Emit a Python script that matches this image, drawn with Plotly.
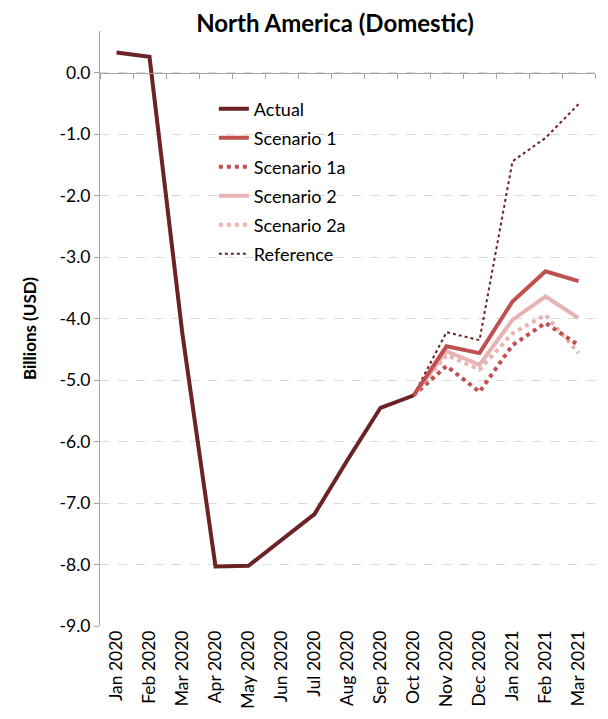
import plotly.graph_objects as go

months = ["Jan 2020", "Feb 2020", "Mar 2020", "Apr 2020", "May 2020", "Jun 2020",
          "Jul 2020", "Aug 2020", "Sep 2020", "Oct 2020", "Nov 2020", "Dec 2020",
          "Jan 2021", "Feb 2021", "Mar 2021"]

actual = [0.33, 0.26, -4.26, -8.03, -8.02, -7.60, -7.18, -6.30, -5.45, -5.25,
          None, None, None, None, None]
scenario1 = [None] * 9 + [-5.25, -4.45, -4.56, -3.72, -3.23, -3.39]
scenario1a = [None] * 9 + [-5.25, -4.77, -5.19, -4.43, -4.07, -4.43]
scenario2 = [None] * 9 + [-5.25, -4.53, -4.75, -4.02, -3.64, -3.99]
scenario2a = [None] * 9 + [-5.25, -4.59, -4.83, -4.24, -3.94, -4.56]
reference = [None] * 9 + [-5.25, -4.22, -4.35, -1.44, -1.06, -0.51]

y_ticks = [0.0, -1.0, -2.0, -3.0, -4.0, -5.0, -6.0, -7.0, -8.0, -9.0]

C_ACT = "#6B2326"
C_S1 = "#C0504D"
C_S2 = "#E8B4B3"
FONT = "Lato, 'Open Sans', sans-serif"

fig = go.Figure()
# (name, data, color, width, dash, legend rank) ; drawn bottom to top
series = [
    ("Reference", reference, C_ACT, 2, "dot", 6),
    ("Scenario 2a", scenario2a, C_S2, 4, "dot", 5),
    ("Scenario 1a", scenario1a, C_S1, 4, "dot", 3),
    ("Scenario 2", scenario2, C_S2, 4, None, 4),
    ("Scenario 1", scenario1, C_S1, 4, None, 2),
    ("Actual", actual, C_ACT, 4, None, 1),
]
for name, vals, col, w, dash, rank in series:
    fig.add_trace(go.Scatter(x=months, y=vals, name=name, mode="lines",
                             legendgroup=name, legendrank=rank,
                             line=dict(color=col, width=w, dash=dash)))

ymin, ymax = -9.0, 0.68
zero_pos = (0 - ymin) / (ymax - ymin)

W, H = 600, 711  # page has an 8px body margin
fig.update_layout(
    width=W, height=H,
    margin=dict(l=92, r=13, t=23, b=93, autoexpand=False),
    paper_bgcolor="white", plot_bgcolor="white",
    font=dict(family=FONT, size=17, color="#000000"),
    title=dict(text="<b>North America (Domestic)</b>", x=327 / W, xanchor="center",
               xref="container", yref="container", y=1 - 16 / H, yanchor="middle",
               font=dict(size=24, family=FONT)),
    showlegend=True,
    legend=dict(x=0.23, y=0.90, xanchor="left", yanchor="top",
                bgcolor="rgba(0,0,0,0)", traceorder="grouped",
                font=dict(size=18, family=FONT), tracegroupgap=2.6),
    xaxis=dict(type="category", range=[-0.5, 14.5], showgrid=False,
               tickangle=-90, ticks="", showline=False, zeroline=False,
               automargin=False, tickfont=dict(size=17.5)),
    xaxis2=dict(type="category", range=[-0.5, 14.5], overlaying="x",
                anchor="free", position=zero_pos, side="bottom",
                showline=True, linecolor="#A6A6A6", linewidth=1,
                ticks="outside", ticklen=5, tickcolor="#A6A6A6",
                tickson="boundaries", showticklabels=False, showgrid=False,
                automargin=False),
    yaxis=dict(range=[ymin, ymax], tickvals=y_ticks,
               ticktext=[f"{v:.1f}" for v in y_ticks],
               showgrid=True, gridcolor="#D9D9D9", griddash="dash", gridwidth=1,
               zeroline=False, showline=True, linecolor="#A6A6A6", linewidth=1,
               ticks="outside", ticklen=5, tickcolor="#A6A6A6", automargin=False,
               title=dict(text="<b>Billions (USD)</b>", font=dict(size=17), standoff=18),
               tickfont=dict(size=17.5)),
)
# invisible trace on xaxis2 to activate it
fig.add_trace(go.Scatter(x=months, y=[None] * len(months), xaxis="x2",
                         showlegend=False, hoverinfo="skip", mode="lines"))

fig.write_html("out.html")
